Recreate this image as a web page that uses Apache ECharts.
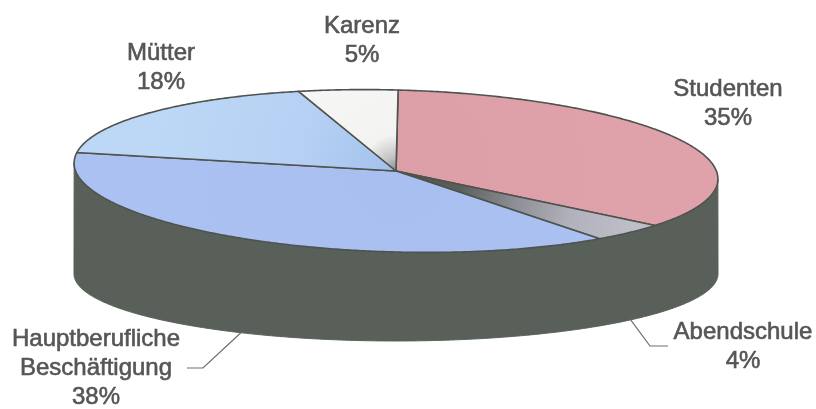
<!DOCTYPE html>
<html>
<head>
<meta charset="utf-8">
<script src="https://cdn.jsdelivr.net/npm/echarts@6/dist/echarts.min.js"></script>
<style>
  html, body { margin: 0; padding: 0; background: #ffffff; }
  #chart { width: 816px; height: 409px; }
</style>
</head>
<body>
<div id="chart"></div>
<script>
// Slice data, clockwise from 12 o'clock
const categories = ['Studenten', 'Abendschule', 'Hauptberufliche\nBeschäftigung', 'Mütter', 'Karenz'];
const shares = [35, 4, 38, 18, 5];

// Top-face fills: radial shading from the pie centre outwards
const sliceShades = [
  [[0, '#dc9ea7'], [1, '#e0a2aa']],
  [[0, '#4c504c'], [0.28, '#5c605c'], [0.5, '#8c8c94'], [0.75, '#b2b2bc'], [1, '#bebec8']],
  [[0, '#a8bff0'], [1, '#abc1f1']],
  [[0, '#a2c1ec'], [0.4, '#b5d0f3'], [1, '#bdd7f6']],
  [[0, '#8a8a8a'], [0.06, '#c4c4c4'], [0.15, '#f3f3f1'], [1, '#fbfbf9']]
];
const wallColor = '#596059';
const edgeColor = '#4e534e';
const textColor = '#555555';

// Cylinder geometry (pixels)
const G = { cx: 396, cy: 171, rx: 322, ryTop: 81, cyBottom: 274, ryBottom: 67, tilt: 1.5 };

// Label placement (text block centre) and optional leader elbow/end
const labelLayout = [
  { x: 728, y: 104 },
  { x: 743, y: 347, leader: [[650, 346], [668, 346]] },
  { x: 96, y: 368, leader: [[203, 368], [187, 368]] },
  { x: 161, y: 68 },
  { x: 362, y: 41 }
];

const total = shares.reduce((a, b) => a + b, 0);
const angles = [];
(function () {
  let acc = 0;
  shares.forEach(v => {
    const a0 = acc / total * 360;
    acc += v;
    angles.push([a0, acc / total * 360]);
  });
})();

function topPt(deg) {
  const t = deg * Math.PI / 180;
  const x = G.rx * Math.sin(t), y = -G.ryTop * Math.cos(t);
  const k = G.tilt * Math.PI / 180, c = Math.cos(k), s = Math.sin(k);
  return [G.cx + x * c - y * s, G.cy + x * s + y * c];
}
function bottomPt(deg) {
  const t = deg * Math.PI / 180;
  return [G.cx + G.rx * Math.sin(t), G.cyBottom - G.ryBottom * Math.cos(t)];
}
function arc(fn, a0, a1) {
  const pts = [];
  const n = Math.max(2, Math.ceil(Math.abs(a1 - a0) / 0.5));
  for (let i = 0; i <= n; i++) pts.push(fn(a0 + (a1 - a0) * i / n));
  return pts;
}

// Side wall: only the front half (90°..270°) of each slice is visible
function renderWall(params, api) {
  const [a0, a1] = angles[params.dataIndex];
  const s = Math.max(a0, 90), e = Math.min(a1, 270);
  if (e <= s) return null;
  const pts = arc(topPt, s, e).concat(arc(bottomPt, e, s));
  return {
    type: 'polygon',
    shape: { points: pts },
    style: { fill: wallColor, stroke: wallColor, lineWidth: 1 }
  };
}

function renderTop(params, api) {
  const i = params.dataIndex;
  const [a0, a1] = angles[i];
  const pts = [[G.cx, G.cy]].concat(arc(topPt, a0, a1));
  return {
    type: 'polygon',
    shape: { points: pts },
    style: {
      fill: {
        type: 'radial', x: G.cx, y: G.cy, r: G.rx * 0.75, global: true,
        colorStops: sliceShades[i].map(([o, c]) => ({ offset: o, color: c }))
      },
      stroke: edgeColor, lineWidth: 1.6, lineJoin: 'round'
    }
  };
}

function renderLabel(params, api) {
  const i = params.dataIndex;
  const L = labelLayout[i];
  const children = [{
    type: 'text',
    x: L.x, y: L.y,
    style: {
      text: categories[i] + '\n' + api.value(0) + '%',
      fill: textColor,
      font: '24px "Liberation Sans", Arial, sans-serif',
      lineHeight: 29,
      align: 'center',
      verticalAlign: 'middle',
      stroke: textColor,
      lineWidth: 0.6
    }
  }];
  if (L.leader) {
    const [a0, a1] = angles[i];
    const start = bottomPt((a0 + a1) / 2);
    children.push({
      type: 'polyline',
      shape: { points: [start].concat(L.leader) },
      style: { stroke: '#6e6e6e', lineWidth: 1.2, fill: null }
    });
  }
  return { type: 'group', children };
}

const data = shares.map(v => [v]);
const chart = echarts.init(document.getElementById('chart'), null, { renderer: 'canvas' });
chart.setOption({
  backgroundColor: '#ffffff',
  animation: false,
  series: [
    { type: 'custom', name: 'wall', coordinateSystem: 'none', z: 1, data, renderItem: renderWall, silent: true },
    { type: 'custom', name: 'top', coordinateSystem: 'none', z: 2, data, renderItem: renderTop, silent: true },
    { type: 'custom', name: 'labels', coordinateSystem: 'none', z: 3, data, renderItem: renderLabel, silent: true }
  ]
});
</script>
</body>
</html>
